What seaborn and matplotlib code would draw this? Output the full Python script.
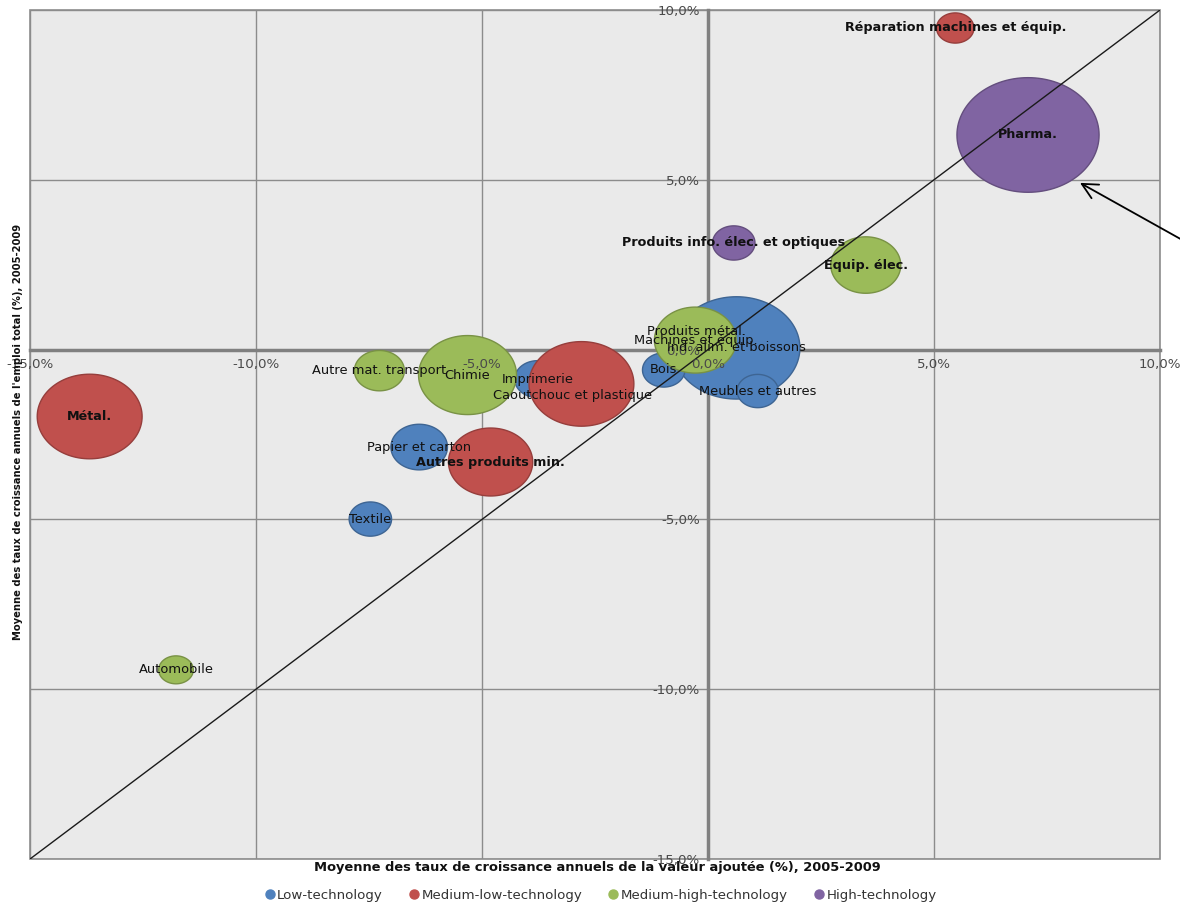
import numpy as np
import pandas as pd
import matplotlib
matplotlib.use("Agg")
import matplotlib.pyplot as plt
from matplotlib.path import Path
from matplotlib.lines import Line2D
from matplotlib.ticker import FuncFormatter, FixedLocator
import seaborn as sns

# ---------------- data ----------------
secteurs = [
    "Ind. alim. et boissons", "Textile", "Bois", "Papier et carton", "Imprimerie", "Meubles et autres",
    "Caoutchouc et plastique", "Autres produits min.", "Métal.", "Produits métal.", "Réparation machines et équip.",
    "Chimie", "Equip. élec.", "Machines et équip.", "Automobile", "Autre mat. transport",
    "Pharma.", "Produits info. élec. et optiques",
]
niveau_techno = [
    "Low-technology"] * 6 + ["Medium-low-technology"] * 5 + ["Medium-high-technology"] * 5 + ["High-technology"] * 2
croissance_va = [0.63, -7.47, -0.98, -6.39, -3.77, 1.10,
                 -2.80, -4.81, -13.68, -0.25, 5.47,
                 -5.32, 3.49, -0.28, -11.77, -7.27,
                 7.08, 0.57]
croissance_emploi = [0.05, -4.99, -0.60, -2.87, -0.87, -1.22,
                     -1.01, -3.31, -1.97, 0.52, 9.47,
                     -0.75, 2.49, 0.28, -9.43, -0.62,
                     6.32, 3.14]
poids = [161, 18, 18, 32, 21, 17,
         110, 71, 110, 16, 14,
         96, 49, 67, 12, 25,
         202, 18]

categories = ["Low-technology", "Medium-low-technology", "Medium-high-technology", "High-technology"]
couleurs = ["#4F81BD", "#C0504D", "#9BBB59", "#8064A2"]
ticks = [-15, -10, -5, 0, 5, 10]

labels_gras = {"Métal.", "Réparation machines et équip.", "Pharma.",
               "Produits info. élec. et optiques", "Equip. élec.", "Autres produits min."}
decalages = {"Caoutchouc et plastique": (-6.5, -8.6)}

df = pd.DataFrame({"secteur": secteurs, "niveau": niveau_techno,
                   "va": croissance_va, "emploi": croissance_emploi, "poids": poids})

# ---------------- figure ----------------
sns.set_style("white")
plt.rcParams["font.family"] = ["DejaVu Sans"]

fig = plt.figure(figsize=(11.8, 9.02), dpi=100)
ax = fig.add_axes([30 / 1180, 43 / 902, 1130 / 1180, 849 / 902])
ax.set_facecolor("#EAEAEA")

# ellipse marker (bubbles look slightly wider than tall in the reference)
theta = np.linspace(0, 2 * np.pi, 121)
ellipse = Path(np.column_stack([1.24 * np.cos(theta), np.sin(theta)]), closed=True)

vmax = max(poids)
px2pt = 0.72
smax = (px2pt * 10) ** 2 * vmax

sns.scatterplot(data=df, x="va", y="emploi", hue="niveau", hue_order=categories,
                palette=couleurs, size="poids", sizes=(0, smax), size_norm=(0, vmax),
                marker=ellipse, linewidth=1.0,
                legend=False, ax=ax, zorder=3)
coll = ax.collections[0]
fc = np.array(coll.get_facecolors())
ec = fc.copy()
ec[:, :3] = ec[:, :3] * 0.78
coll.set_edgecolors(ec)

ax.set_xlim(-15, 10)
ax.set_ylim(-15, 10)
ax.xaxis.set_major_locator(FixedLocator(ticks))
ax.yaxis.set_major_locator(FixedLocator(ticks))
fmt = FuncFormatter(lambda v, p: f"{v:.1f}%".replace(".", ","))
ax.xaxis.set_major_formatter(fmt)
ax.yaxis.set_major_formatter(fmt)

# grid lines under the bubbles, tick labels above them
ax.grid(False)
for t in ticks:
    ax.axvline(t, color="#8C8C8C", linewidth=1.0, zorder=0.5)
    ax.axhline(t, color="#8C8C8C", linewidth=1.0, zorder=0.5)
ax.set_axisbelow(False)
ax.xaxis.set_zorder(5)
ax.yaxis.set_zorder(5)

for s in ["top", "right"]:
    ax.spines[s].set_visible(False)
ax.spines["left"].set_position(("data", 0))
ax.spines["bottom"].set_position(("data", 0))
for s in ["left", "bottom"]:
    ax.spines[s].set_color("#808080")
    ax.spines[s].set_linewidth(2.5)
    ax.spines[s].set_zorder(1)
ax.patch.set_edgecolor("#8C8C8C")
ax.patch.set_linewidth(1.2)

ax.tick_params(axis="both", direction="out", length=4, width=1, color="#808080",
               labelsize=9.6, labelcolor="#4a4a4a", pad=2)

# diagonal y = x
ax.axline((0, 0), slope=1, color="#1a1a1a", linewidth=1.0, zorder=4)

# labels
for _, r in df.iterrows():
    dx, dy = decalages.get(r["secteur"], (0, 0))
    gras = r["secteur"] in labels_gras
    ax.annotate(r["secteur"], (r["va"], r["emploi"]), xytext=(dx, dy),
                textcoords="offset points", ha="center", va="center",
                fontsize=9.2 if gras else 9.4, color="#111111",
                fontweight="bold" if gras else "normal",
                zorder=6)

# arrow pointing to Pharma.
ax.annotate("", xy=(8.23, 4.91), xycoords="data",
            xytext=(1.005, 1 - 242 / 902), textcoords="figure fraction",
            arrowprops=dict(arrowstyle="->", color="black", lw=1.3,
                            mutation_scale=28, shrinkA=0, shrinkB=0),
            annotation_clip=False, zorder=7)

ax.set_xlabel("")
ax.set_ylabel("")
fig.text(597 / 1180, 1 - 868 / 902,
         "Moyenne des taux de croissance annuels de la valeur ajoutée (%), 2005-2009",
         ha="center", va="center", fontsize=9.4, fontweight="bold", color="#111111")
fig.text(18 / 1180, 1 - 432 / 902,
         "Moyenne des taux de croissance annuels de l'emploi total (%), 2005-2009",
         ha="center", va="center", rotation=90, fontsize=7.2, fontweight="bold", color="#111111")

handles = [Line2D([0], [0], marker="o", linestyle="", markersize=6.5,
                  markerfacecolor=c, markeredgecolor=c) for c in couleurs]
fig.legend(handles, categories, loc="center", bbox_to_anchor=(600 / 1180, 1 - 895 / 902),
           ncol=4, frameon=False, fontsize=9.6, handletextpad=0.1, handlelength=0.9,
           columnspacing=1.9, labelcolor="#333333")

fig.savefig("out.png", dpi=100, facecolor="white")
